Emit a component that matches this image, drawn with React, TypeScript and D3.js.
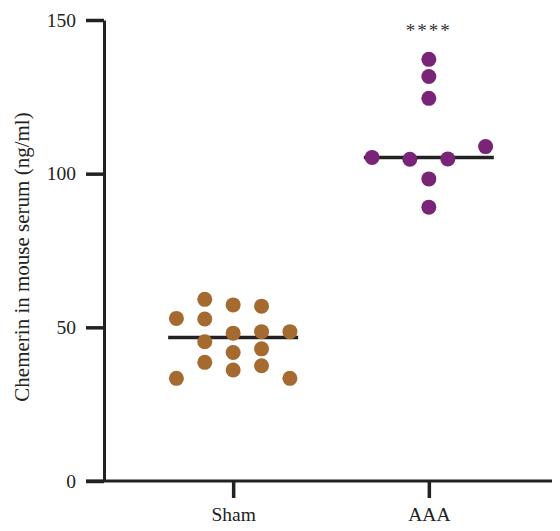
import React, { useEffect, useRef } from 'react';
import * as d3 from 'd3';

// groups on the x axis
const groups = ['Sham', 'AAA'];

// Sham chemerin values (ng/ml) and their horizontal jitter (fraction of the category step)
const shamValues = [52.9, 33.4, 59.1, 52.7, 45.3, 38.6, 57.3, 48.1, 41.8, 36.1, 56.9, 48.6, 43.0, 37.5, 48.6, 33.4];
const shamJitter = [-0.29, -0.29, -0.145, -0.145, -0.145, -0.145, 0, 0, 0, 0, 0.145, 0.145, 0.145, 0.145, 0.29, 0.29];

// AAA chemerin values (ng/ml) and jitter
const aaaValues = [137.2, 131.6, 124.5, 105.3, 104.7, 104.8, 108.8, 98.3, 89.1];
const aaaJitter = [0, 0, 0, -0.29, -0.097, 0.097, 0.29, 0, 0];

const yTicks = [0, 50, 100, 150];
const significance = '****';

const W = 560;
const H = 531;
const FONT = '"Liberation Serif", "Times New Roman", serif';

export default function App() {
  const ref = useRef<SVGSVGElement>(null);

  useEffect(() => {
    const svg = d3.select(ref.current);
    svg.selectAll('*').remove();

    const left = 104, top = 20, bottom = 481, right = 558;

    const y = d3.scaleLinear().domain([0, 150]).range([bottom, top]);
    const x = d3.scalePoint<string>().domain(groups).range([left, right]).padding(0.66);
    const step = x.step();

    const series = [
      { name: 'Sham', values: shamValues, jitter: shamJitter, color: '#a56a30' },
      { name: 'AAA', values: aaaValues, jitter: aaaJitter, color: '#7a2477' },
    ];

    // median lines
    series.forEach(s => {
      const med = d3.median(s.values) as number;
      const cx = x(s.name) as number;
      svg.append('line')
        .attr('x1', cx - 65)
        .attr('x2', cx + 65)
        .attr('y1', y(med))
        .attr('y2', y(med))
        .attr('stroke', '#222')
        .attr('stroke-width', 3.5);
    });

    // points
    series.forEach(s => {
      const cx = x(s.name) as number;
      svg.append('g')
        .selectAll('circle')
        .data(s.values)
        .enter().append('circle')
        .attr('cx', (d, i) => cx + s.jitter[i] * step)
        .attr('cy', d => y(d))
        .attr('r', 7.5)
        .attr('fill', s.color);
    });

    // y axis
    const yAxis = d3.axisLeft(y).tickValues(yTicks).tickSize(18).tickPadding(10).tickSizeOuter(0);
    const gy = svg.append('g').attr('transform', `translate(${left},0)`).call(yAxis);
    gy.select('.domain').attr('stroke', '#222').attr('stroke-width', 3);
    gy.selectAll('.tick line').attr('stroke', '#222').attr('stroke-width', 3.5);
    gy.selectAll('.tick text')
      .attr('font-family', FONT)
      .attr('font-size', 19.5)
      .attr('fill', '#222');

    // x axis
    const gx = svg.append('g').attr('transform', `translate(0,${bottom})`);
    gx.append('line')
      .attr('x1', left - 18)
      .attr('x2', W)
      .attr('stroke', '#222')
      .attr('stroke-width', 3);
    const xAxis = d3.axisBottom(x).tickSize(17).tickPadding(9).tickSizeOuter(0);
    const gxa = gx.append('g').call(xAxis);
    gxa.select('.domain').remove();
    gxa.selectAll('.tick line').attr('stroke', '#222').attr('stroke-width', 3.5);
    gxa.selectAll('.tick text')
      .attr('font-family', FONT)
      .attr('font-size', 19.5)
      .attr('fill', '#222');

    // significance stars
    svg.append('text')
      .attr('x', x('AAA') as number)
      .attr('y', 37)
      .attr('text-anchor', 'middle')
      .attr('font-family', FONT)
      .attr('font-size', 19)
      .attr('letter-spacing', 2)
      .attr('fill', '#333')
      .text(significance);

    // y label
    svg.append('text')
      .attr('transform', `translate(29,257) rotate(-90)`)
      .attr('text-anchor', 'middle')
      .attr('font-family', FONT)
      .attr('font-size', 21)
      .attr('fill', '#222')
      .text('Chemerin in mouse serum (ng/ml)');
  }, []);

  return <svg ref={ref} width={W} height={H} style={{ display: 'block', margin: -8 }} />;
}
